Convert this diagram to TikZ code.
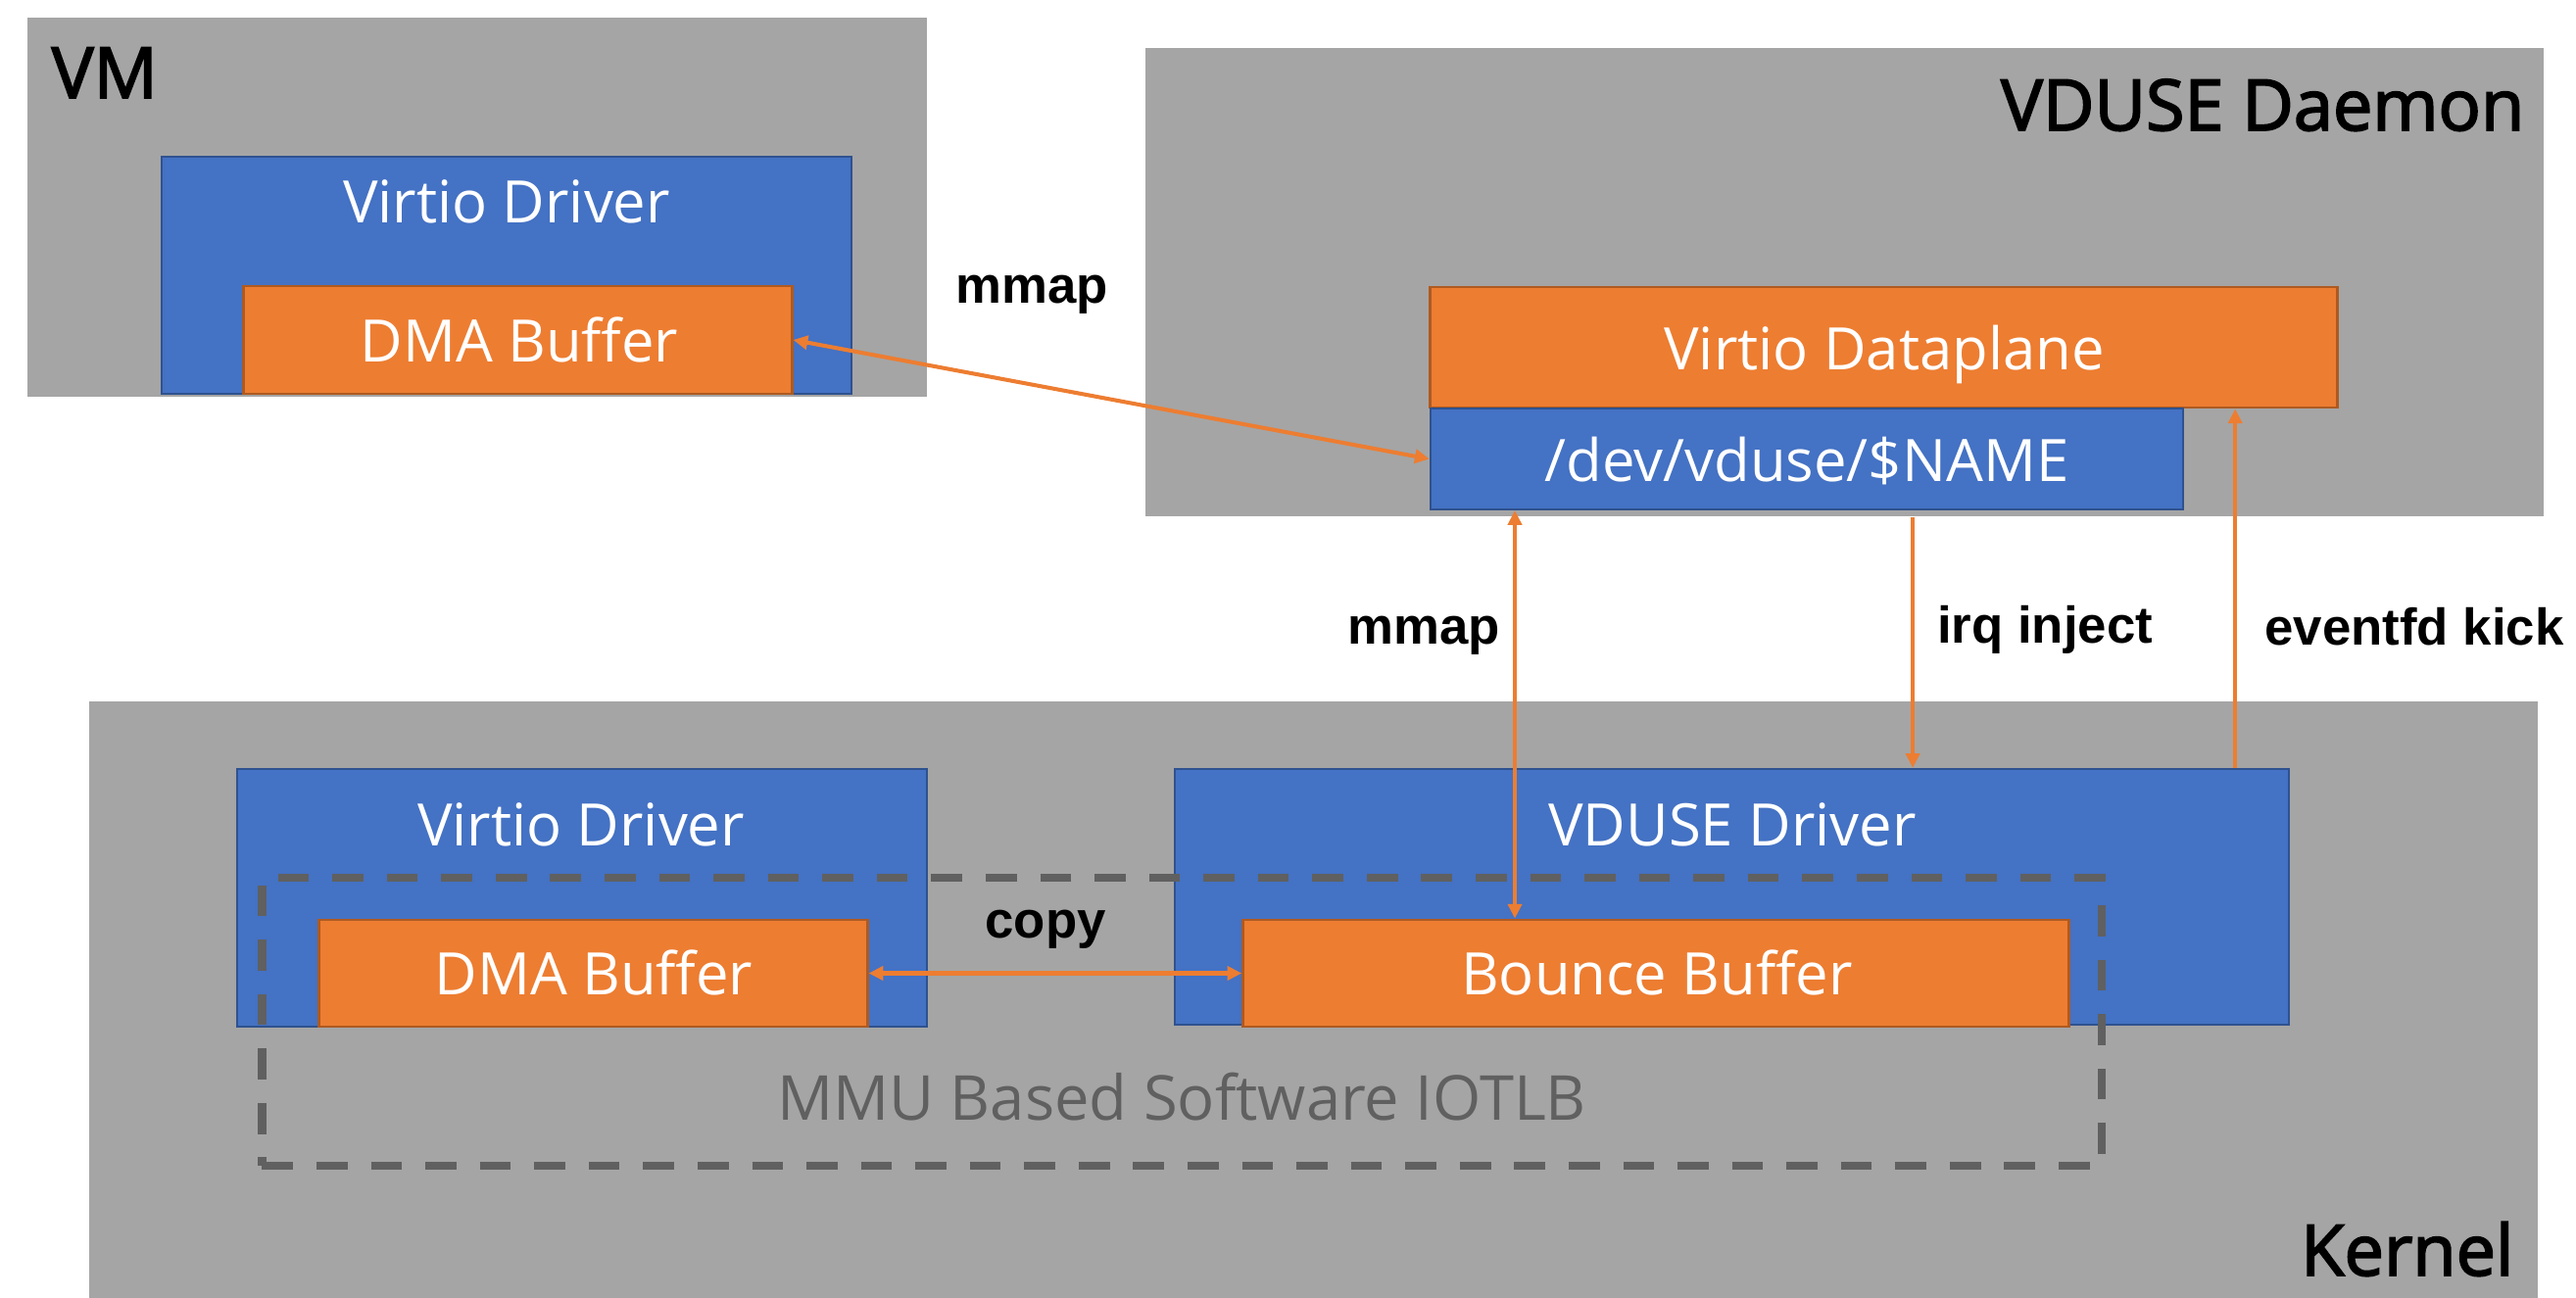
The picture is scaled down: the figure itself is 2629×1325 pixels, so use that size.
\documentclass[tikz,border=0pt]{standalone}
\usepackage{fontspec}
\setmainfont{Open Sans}
\newfontfamily\lblfont{Liberation Sans}
\newfontfamily\titlefont{Open Sans}[FakeBold=2.5]
\usetikzlibrary{arrows.meta,calc}

\definecolor{layergray}{HTML}{A5A5A5}
\definecolor{boxblue}{HTML}{4472C4}
\definecolor{boxblueedge}{HTML}{2F528F}
\definecolor{boxorange}{HTML}{ED7D31}
\definecolor{boxorangeedge}{HTML}{AE5A21}
\definecolor{iotlbgray}{HTML}{606060}

\tikzset{
  layer/.style={fill=layergray, draw=none, inner sep=0pt},
  bluebox/.style={fill=boxblue, draw=boxblueedge, line width=0.6pt, inner sep=0pt},
  orangebox/.style={fill=boxorange, draw=boxorangeedge, line width=0.8pt, inner sep=0pt},
  boxtext/.style={text=white, anchor=base, inner sep=0pt, font=\fontsize{17pt}{20pt}\selectfont},
  titletext/.style={text=black, inner sep=0pt, font=\titlefont\fontsize{20.5pt}{24pt}\selectfont},
  arrowtext/.style={text=black, anchor=base, inner sep=0pt, font=\lblfont\bfseries\fontsize{15pt}{17pt}\selectfont},
  iotlb/.style={draw=iotlbgray, line width=2.3pt, dash pattern=on 9pt off 6.8pt, fill=none},
  link/.style={draw=boxorange, line width=1.15pt, {Triangle[length=4.2pt,width=4pt]}-{Triangle[length=4.2pt,width=4pt]}},
  onelink/.style={draw=boxorange, line width=1.15pt, -{Triangle[length=4.2pt,width=4pt]}},
}

\begin{document}
\begin{tikzpicture}[x=0.01cm, y=-0.01cm]
\useasboundingbox (0,0) rectangle (2629,1325);

% ---------- VM ----------
\node[layer, minimum width=9.18cm, minimum height=3.87cm] (vm) at (487,211.5) {};
\node[titletext, anchor=base west] (vmtitle) at (52,100) {VM};
\node[bluebox, minimum width=7.04cm, minimum height=2.42cm] (vmdrv) at (517,281) {};
\node[boxtext] (vmdrvtext) at (517,228) {Virtio Driver};
\node[orangebox, minimum width=5.59cm, minimum height=1.10cm] (vmdma) at (528.5,347) {};
\node[boxtext] (vmdmatext) at (530,370) {DMA Buffer};

% ---------- VDUSE daemon ----------
\node[layer, minimum width=14.27cm, minimum height=4.78cm] (daemon) at (1882.5,288) {};
\node[titletext, anchor=base east] (daemontitle) at (2577,133) {VDUSE Daemon};
\node[orangebox, minimum width=9.25cm, minimum height=1.23cm] (dataplane) at (1922.5,354.5) {};
\node[boxtext] (dataplanetext) at (1923,378) {Virtio Dataplane};
\node[bluebox, minimum width=7.68cm, minimum height=1.03cm] (devnode) at (1844,468.5) {};
\node[boxtext] (devnodetext) at (1844,492) {/dev/vduse/\$NAME};

% ---------- Kernel ----------
\node[layer, minimum width=24.97cm, minimum height=6.09cm] (kernel) at (1340.5,1020.5) {};
\node[titletext, anchor=base east] (kerneltitle) at (2566,1302) {Kernel};
\node[bluebox, minimum width=7.04cm, minimum height=2.63cm] (kdrv) at (594,916.5) {};
\node[boxtext] (kdrvtext) at (593,864) {Virtio Driver};
\node[bluebox, minimum width=11.37cm, minimum height=2.61cm] (vduse) at (1767.5,915.5) {};
\node[boxtext] (vdusetext) at (1768,864) {VDUSE Driver};

% software IOTLB region
\node[iotlb, minimum width=18.76cm, minimum height=2.94cm, inner sep=0pt] (iotlb) at (1206,1043) {};
\node[boxtext, text=iotlbgray, font=\fontsize{18pt}{20pt}\selectfont] (iotlbtext) at (1206,1143) {MMU Based Software IOTLB};

\node[orangebox, minimum width=5.59cm, minimum height=1.09cm] (kdma) at (605.5,993.5) {};
\node[boxtext] (kdmatext) at (606,1016) {DMA Buffer};
\node[orangebox, minimum width=8.42cm, minimum height=1.09cm] (bounce) at (1690,993.5) {};
\node[boxtext] (bouncetext) at (1691,1016) {Bounce Buffer};

% ---------- connectors ----------
\draw[link] (vmdma.east) -- (devnode.west);
\node[arrowtext] (mmaptop) at (1053,310) {mmap};

\coordinate (mmapx) at ($(devnode.south west)!0.1133!(devnode.south east)$);
\draw[link] (mmapx |- bounce.north) -- (mmapx);
\node[arrowtext] (mmapmid) at (1453,658) {mmap};

\coordinate (irqx) at ($(daemon.south west)!0.5487!(daemon.south east)$);
\draw[onelink] (irqx) -- (irqx |- vduse.north);
\node[arrowtext] (irqtext) at (2087,657) {irq inject};

\coordinate (kickx) at ($(vduse.north west)!0.9507!(vduse.north east)$);
\draw[onelink] (kickx) -- (kickx |- dataplane.south);
\node[arrowtext] (kicktext) at (2464,659) {eventfd kick};

\draw[link] (kdma.east) -- (bounce.west);
\node[arrowtext] (copytext) at (1067,958) {copy};
\end{tikzpicture}
\end{document}
